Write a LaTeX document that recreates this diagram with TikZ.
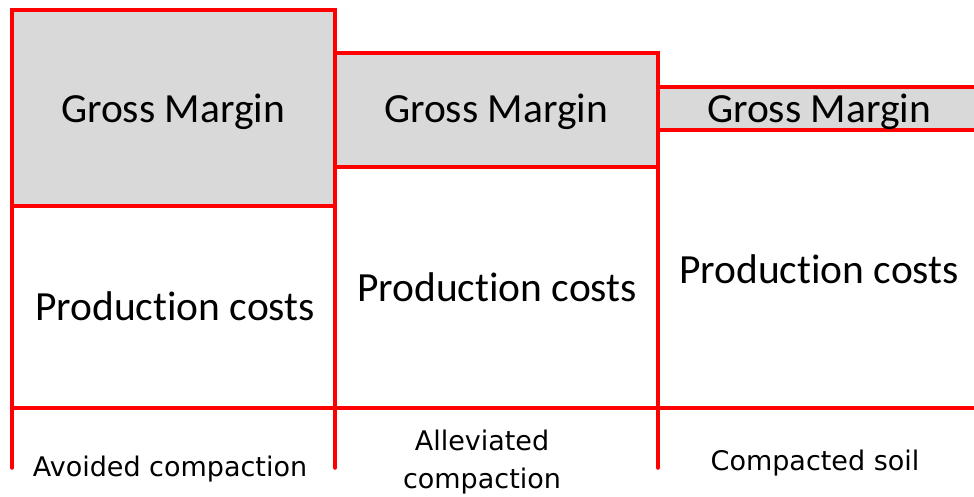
\documentclass[tikz,border=0pt]{standalone}
\usepackage{fontspec}
\setmainfont{Carlito}[RawFeature=-liga]
\newfontfamily\captionfont{DejaVu Sans}
\usepackage{tikz}
\usetikzlibrary{positioning}
\definecolor{marginfill}{RGB}{217,217,217}

\begin{document}
\begin{tikzpicture}[x=1pt, y=-1pt,
    frame/.style={draw=red, line width=3.5pt, line cap=round},
    bigtext/.style={font=\fontsize{41.5}{44}\selectfont, anchor=base},
    soiltext/.style={font=\captionfont\fontsize{27}{38}\selectfont, align=center, anchor=base}]
    \useasboundingbox (0,0) rectangle (974,497);

    % Grey gross margin boxes
    \fill[marginfill] (12,10) rectangle (335,206);
    \fill[marginfill] (335,53) rectangle (658,167);
    \fill[marginfill] (658,87) rectangle (974,130);

    % Column frames
    \draw[frame, line join=miter] (12,468) -- (12,10) -- (335,10) -- (335,468);
    \draw[frame, line join=miter] (335,53) -- (658,53) -- (658,468);
    \draw[frame] (658,87) -- (974,87);

    % Dividers between gross margin and costs
    \draw[frame] (12,206) -- (335,206);
    \draw[frame] (335,167) -- (658,167);
    \draw[frame] (658,130) -- (974,130);

    % Base line
    \draw[frame] (12,408) -- (974,408);

    % Gross margin labels
    \node[bigtext] (gm1) at (173,123) {Gross Margin};
    \node[bigtext] (gm2) at (496,123) {Gross Margin};
    \node[bigtext] (gm3) at (819,123) {Gross Margin};

    % Production cost labels
    \node[bigtext] (pc1) at (175,320) {Production costs};
    \node[bigtext] (pc2) at (497,301) {Production costs};
    \node[bigtext] (pc3) at (819,283) {Production costs};

    % Soil states
    \node[soiltext] (avoided) at (170,476) {Avoided compaction};
    \node[soiltext] (alleviated) at (482,488) {Alleviated\\compaction};
    \node[soiltext] (compacted) at (815,470) {Compacted soil};
\end{tikzpicture}
\end{document}
